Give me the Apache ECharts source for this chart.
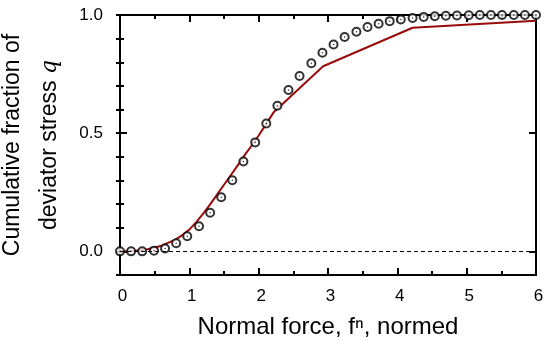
<!DOCTYPE html>
<html>
<head>
<meta charset="utf-8">
<script src="https://cdn.jsdelivr.net/npm/echarts@6/dist/echarts.min.js"></script>
<style>html,body{margin:0;padding:0;background:#fff}#c{width:545px;height:340px}</style>
</head>
<body>
<div id="c"></div>
<script>
// Measured points (open circles)
var pointX = [0, 0.16, 0.32, 0.49, 0.65, 0.81, 0.97, 1.14, 1.30, 1.46, 1.62, 1.78, 1.95, 2.11, 2.27, 2.43, 2.59, 2.76, 2.92, 3.08, 3.24, 3.41, 3.57, 3.73, 3.89, 4.05, 4.22, 4.38, 4.54, 4.70, 4.86, 5.03, 5.19, 5.35, 5.51, 5.68, 5.84, 6.00];
var pointQ = [0, 0, 0, 0.003, 0.012, 0.034, 0.064, 0.106, 0.163, 0.229, 0.301, 0.380, 0.461, 0.541, 0.616, 0.683, 0.742, 0.796, 0.840, 0.875, 0.907, 0.929, 0.949, 0.963, 0.974, 0.981, 0.987, 0.992, 0.995, 0.997, 0.998, 0.999, 1, 1, 1, 1, 1, 1];
// Model curve (red line)
var curveX = [0, 0.2, 0.4, 0.6, 0.8, 0.9, 1.0, 1.1, 1.2, 1.3, 1.4, 1.5, 1.6, 1.7, 1.8, 1.9, 2.0, 2.1, 2.22, 2.93, 4.22, 6.0];
var curveQ = [0, 0.002, 0.009, 0.024, 0.050, 0.069, 0.092, 0.124, 0.160, 0.199, 0.240, 0.282, 0.323, 0.365, 0.408, 0.448, 0.490, 0.535, 0.590, 0.783, 0.946, 0.976];
// Tick labels
var xTicks = [0, 1, 2, 3, 4, 5, 6];
var yTicks = [0, 0.5, 1];
var yMinor = [-0.1, 0, 0.1, 0.2, 0.3, 0.4, 0.5, 0.6, 0.7, 0.8, 0.9, 1.0];

var FONT = 'Liberation Sans';
function pairs(xs, ys) { return xs.map(function (x, i) { return [x, ys[i]]; }); }

var chart = echarts.init(document.getElementById('c'), null, {renderer: 'canvas'});
var lineStyleAxis = {color: '#000', width: 2};
var baseX = {
  type: 'value', min: 0, max: 6, interval: 1,
  axisLine: {show: true, onZero: false, lineStyle: lineStyleAxis},
  axisTick: {show: true, inside: true, length: 7, lineStyle: {color: '#000', width: 2}},
  minorTick: {show: true, splitNumber: 2, length: 4, lineStyle: {color: '#000', width: 2}},
  splitLine: {show: false}, minorSplitLine: {show: false}
};
var baseY = {
  type: 'value', min: -0.1, max: 1,
  axisLine: {show: true, onZero: false, lineStyle: lineStyleAxis},
  splitLine: {show: false}
};
chart.setOption({
  animation: false,
  grid: {left: 120, right: 9, top: 15, bottom: 65, containLabel: false, outerBoundsMode: 'none'},
  xAxis: [
    Object.assign({}, baseX, {
      position: 'bottom',
      name: 'Normal force, f\u207F, normed',
      nameLocation: 'middle', nameGap: 40,
      nameTextStyle: {fontFamily: FONT, fontSize: 24, color: '#000'},
      axisLabel: {show: true, margin: 13, fontFamily: FONT, fontSize: 17, color: '#000',
        customValues: xTicks, padding: [0, 0, 0, 5]}
    }),
    Object.assign({}, baseX, {position: 'top', axisLabel: {show: false}})
  ],
  yAxis: [
    Object.assign({}, baseY, {
      position: 'left',
      axisTick: {show: true, inside: true, length: 7, customValues: yTicks, lineStyle: {color: '#000', width: 2}},
      axisLabel: {show: true, customValues: yTicks, margin: 17, fontFamily: FONT, fontSize: 17, color: '#000',
        formatter: function (v) { return v.toFixed(1); }},
      name: '{t|Cumulative fraction of}\n{t|deviator stress }{q|q}',
      nameLocation: 'middle', nameRotate: 90, nameGap: 45,
      nameTextStyle: {align: 'center', lineHeight: 37, rich: {
        t: {fontFamily: FONT, fontSize: 23, color: '#000', lineHeight: 37},
        q: {fontFamily: 'DejaVu Serif', fontStyle: 'italic', fontSize: 22, color: '#000', lineHeight: 37}
      }}
    }),
    Object.assign({}, baseY, {
      position: 'left',
      axisLine: {show: false},
      axisTick: {show: true, inside: true, length: 4, customValues: yMinor, lineStyle: {color: '#000', width: 2}},
      axisLabel: {show: false}
    }),
    Object.assign({}, baseY, {
      position: 'right',
      axisTick: {show: true, inside: true, length: 7, customValues: yTicks, lineStyle: {color: '#000', width: 2}},
      axisLabel: {show: false}
    }),
    Object.assign({}, baseY, {
      position: 'right',
      axisLine: {show: false},
      axisTick: {show: true, inside: true, length: 4, customValues: yMinor, lineStyle: {color: '#000', width: 2}},
      axisLabel: {show: false}
    })
  ],
  series: [
    {
      type: 'line', xAxisIndex: 0, yAxisIndex: 0,
      data: pairs(curveX, curveQ),
      showSymbol: false, symbol: 'none',
      lineStyle: {color: '#990a0a', width: 2},
      z: 3,
      markLine: {
        silent: true, symbol: 'none', label: {show: false},
        lineStyle: {color: '#000', width: 1, type: [4, 3]},
        data: [{yAxis: 0}]
      }
    },
    {
      type: 'scatter', xAxisIndex: 0, yAxisIndex: 0,
      data: pairs(pointX, pointQ),
      symbol: 'emptyCircle', symbolSize: 8,
      itemStyle: {color: '#000', borderColor: '#000', borderWidth: 0.9},
      z: 4
    },
    {
      type: 'scatter', xAxisIndex: 0, yAxisIndex: 0,
      data: pairs(pointX, pointQ),
      symbol: 'circle', symbolSize: 1.5,
      itemStyle: {color: '#000'},
      z: 5
    }
  ]
});
</script>
</body>
</html>
